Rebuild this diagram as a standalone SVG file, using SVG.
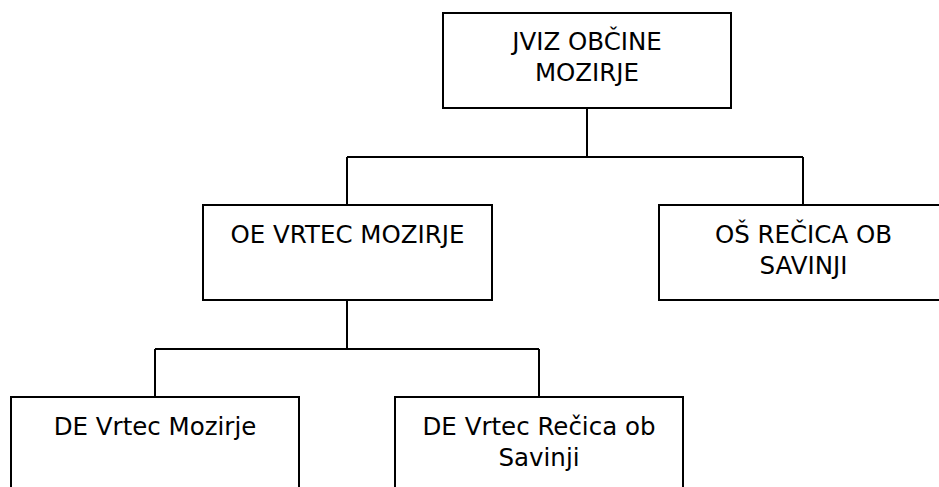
<svg xmlns="http://www.w3.org/2000/svg" width="939" height="487" viewBox="0 0 939 487">
<style>
.box{fill:#fff;stroke:#000;stroke-width:2}
.con{fill:none;stroke:#000;stroke-width:2}
text{font-family:"DejaVu Sans","Liberation Sans",sans-serif;font-size:24.5px;fill:#000;text-anchor:middle}
</style>
<rect width="939" height="487" fill="#fff"/>
<g id="connectors">
<path class="con" d="M587 108V157M347 157H803M347 157V205M803 157V205"/>
<path class="con" d="M347 300V349M155 349H539M155 349V397M539 349V397"/>
</g>
<g id="n-jviz">
<rect class="box" x="443" y="13" width="288" height="95"/>
<text x="587" y="50">JVIZ OBČINE</text>
<text x="587" y="81">MOZIRJE</text>
</g>
<g id="n-oe-vrtec">
<rect class="box" x="203" y="205" width="289" height="95"/>
<text x="347.5" y="243">OE VRTEC MOZIRJE</text>
</g>
<g id="n-os-recica">
<rect class="box" x="659" y="205" width="289" height="95"/>
<text x="803.5" y="243">OŠ REČICA OB</text>
<text x="803.5" y="274">SAVINJI</text>
</g>
<g id="n-de-mozirje">
<rect class="box" x="11" y="397" width="288" height="100"/>
<text x="155" y="435">DE Vrtec Mozirje</text>
</g>
<g id="n-de-recica">
<rect class="box" x="395" y="397" width="288" height="100"/>
<text x="539" y="435">DE Vrtec Rečica ob</text>
<text x="539" y="466">Savinji</text>
</g>
</svg>
